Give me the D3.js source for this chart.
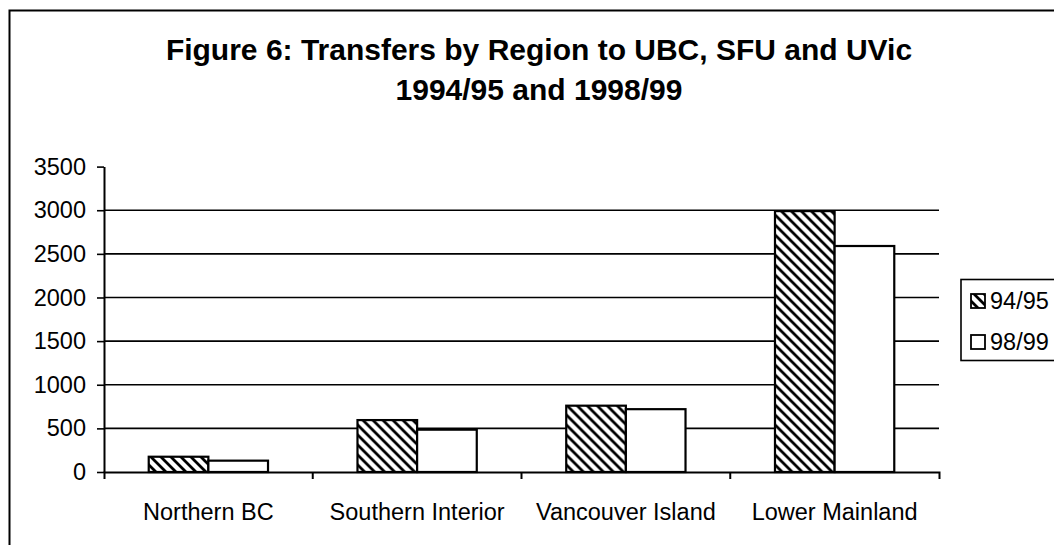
<!DOCTYPE html>
<html>
<head>
<meta charset="utf-8">
<script src="https://cdn.jsdelivr.net/npm/d3@7"></script>
<style>
  html, body { margin: 0; padding: 0; background: #fff; }
  svg { display: block; }
  text { font-family: "Liberation Sans", Arial, sans-serif; fill: #000; }
</style>
</head>
<body>
<svg id="chart" width="1054" height="545"></svg>
<script>
// ---- data ----
const categories = ["Northern BC", "Southern Interior", "Vancouver Island", "Lower Mainland"];
const seriesNames = ["94/95", "98/99"];
const values9495 = [175, 595, 760, 2990];
const values9899 = [130, 485, 720, 2590];
const yTicks = [0, 500, 1000, 1500, 2000, 2500, 3000, 3500];
const titleLines = ["Figure 6: Transfers by Region to UBC, SFU and UVic", "1994/95 and 1998/99"];

const seriesValues = [values9495, values9899];

const svg = d3.select("#chart");
const W = 1054, H = 545;

// background + outer frame
svg.append("rect").attr("width", W).attr("height", H).attr("fill", "#fff");
svg.append("path")
  .attr("d", "M9.5,560V10.5H1060")
  .attr("fill", "none").attr("stroke", "#000").attr("stroke-width", 2);

// hatch pattern
const defs = svg.append("defs");
const pat = defs.append("pattern")
  .attr("id", "hatch")
  .attr("patternUnits", "userSpaceOnUse")
  .attr("width", 10).attr("height", 10);
pat.append("rect").attr("width", 10).attr("height", 10).attr("fill", "#fff");
pat.append("path")
  .attr("d", "M-5,-5L15,15M-5,5L5,15M5,-5L15,5")
  .attr("stroke", "#000").attr("stroke-width", 2.8).attr("fill", "none");

// title
const title = svg.append("text")
  .attr("text-anchor", "middle")
  .attr("font-weight", "bold")
  .attr("font-size", 30);
titleLines.forEach((t, i) => {
  title.append("tspan").attr("x", 539).attr("y", 60 + i * 40).text(t);
});

// scales
const plotLeft = 104, plotRight = 939, plotBottom = 472;
const y = d3.scaleLinear().domain([0, 3500]).range([plotBottom, 166.6]);
const x0 = d3.scaleBand().domain(categories).range([plotLeft, plotRight]).paddingInner(0).paddingOuter(0);
const x1 = d3.scaleBand().domain(seriesNames).range([0, x0.bandwidth()]).paddingInner(0).paddingOuter(0.75);

// gridlines
svg.append("g").selectAll("line")
  .data(yTicks.filter(v => v > 0 && v < 3500))
  .join("line")
  .attr("x1", plotLeft).attr("x2", plotRight)
  .attr("y1", d => y(d)).attr("y2", d => y(d))
  .attr("stroke", "#000").attr("stroke-width", 1.6);

// y axis
const yAxis = svg.append("g")
  .attr("transform", `translate(${plotLeft},0)`)
  .call(d3.axisLeft(y).tickValues(yTicks).tickSize(7).tickSizeOuter(0).tickPadding(11).tickFormat(d3.format("d")));
yAxis.select(".domain").attr("stroke", "#000").attr("stroke-width", 2);
yAxis.selectAll(".tick line").attr("stroke", "#000").attr("stroke-width", 1.6);
yAxis.selectAll("text")
  .attr("font-size", 23.5)
  .attr("font-family", "'Liberation Sans', Arial, sans-serif")
  .attr("fill", "#000");

// bars
const groups = svg.append("g").selectAll("g")
  .data(categories)
  .join("g")
  .attr("transform", d => `translate(${x0(d)},0)`);
groups.selectAll("rect")
  .data((c, ci) => seriesNames.map((s, si) => ({ s, v: seriesValues[si][ci] })))
  .join("rect")
  .attr("x", d => x1(d.s))
  .attr("width", x1.bandwidth())
  .attr("y", d => y(d.v))
  .attr("height", d => y(0) - y(d.v))
  .attr("fill", d => d.s === "94/95" ? "url(#hatch)" : "#fff")
  .attr("stroke", "#000").attr("stroke-width", 2.2);

// x axis
const xAxis = svg.append("g")
  .attr("transform", `translate(0,${plotBottom})`)
  .call(d3.axisBottom(x0).tickSize(0).tickSizeOuter(7).tickPadding(31));
xAxis.select(".domain").attr("stroke", "#000").attr("stroke-width", 2);
xAxis.selectAll("text")
  .attr("font-size", 23.5)
  .attr("font-family", "'Liberation Sans', Arial, sans-serif")
  .attr("fill", "#000");
// category boundary ticks
xAxis.append("g").selectAll("line")
  .data(categories.slice(1))
  .join("line")
  .attr("x1", d => x0(d)).attr("x2", d => x0(d))
  .attr("y1", 0).attr("y2", 7)
  .attr("stroke", "#000").attr("stroke-width", 2);

// legend
const legend = svg.append("g");
legend.append("rect")
  .attr("x", 961).attr("y", 279.5).attr("width", 120).attr("height", 81)
  .attr("fill", "#fff").attr("stroke", "#000").attr("stroke-width", 1.6);
seriesNames.forEach((s, i) => {
  const cy = 301 + i * 41;
  legend.append("rect")
    .attr("x", 971).attr("y", cy - 7).attr("width", 14).attr("height", 14)
    .attr("fill", s === "94/95" ? "url(#hatch)" : "#fff")
    .attr("stroke", "#000").attr("stroke-width", 1.8);
  legend.append("text")
    .attr("x", 990).attr("y", cy).attr("dy", "0.36em")
    .attr("font-size", 23.5)
    .text(s);
});
</script>
</body>
</html>
